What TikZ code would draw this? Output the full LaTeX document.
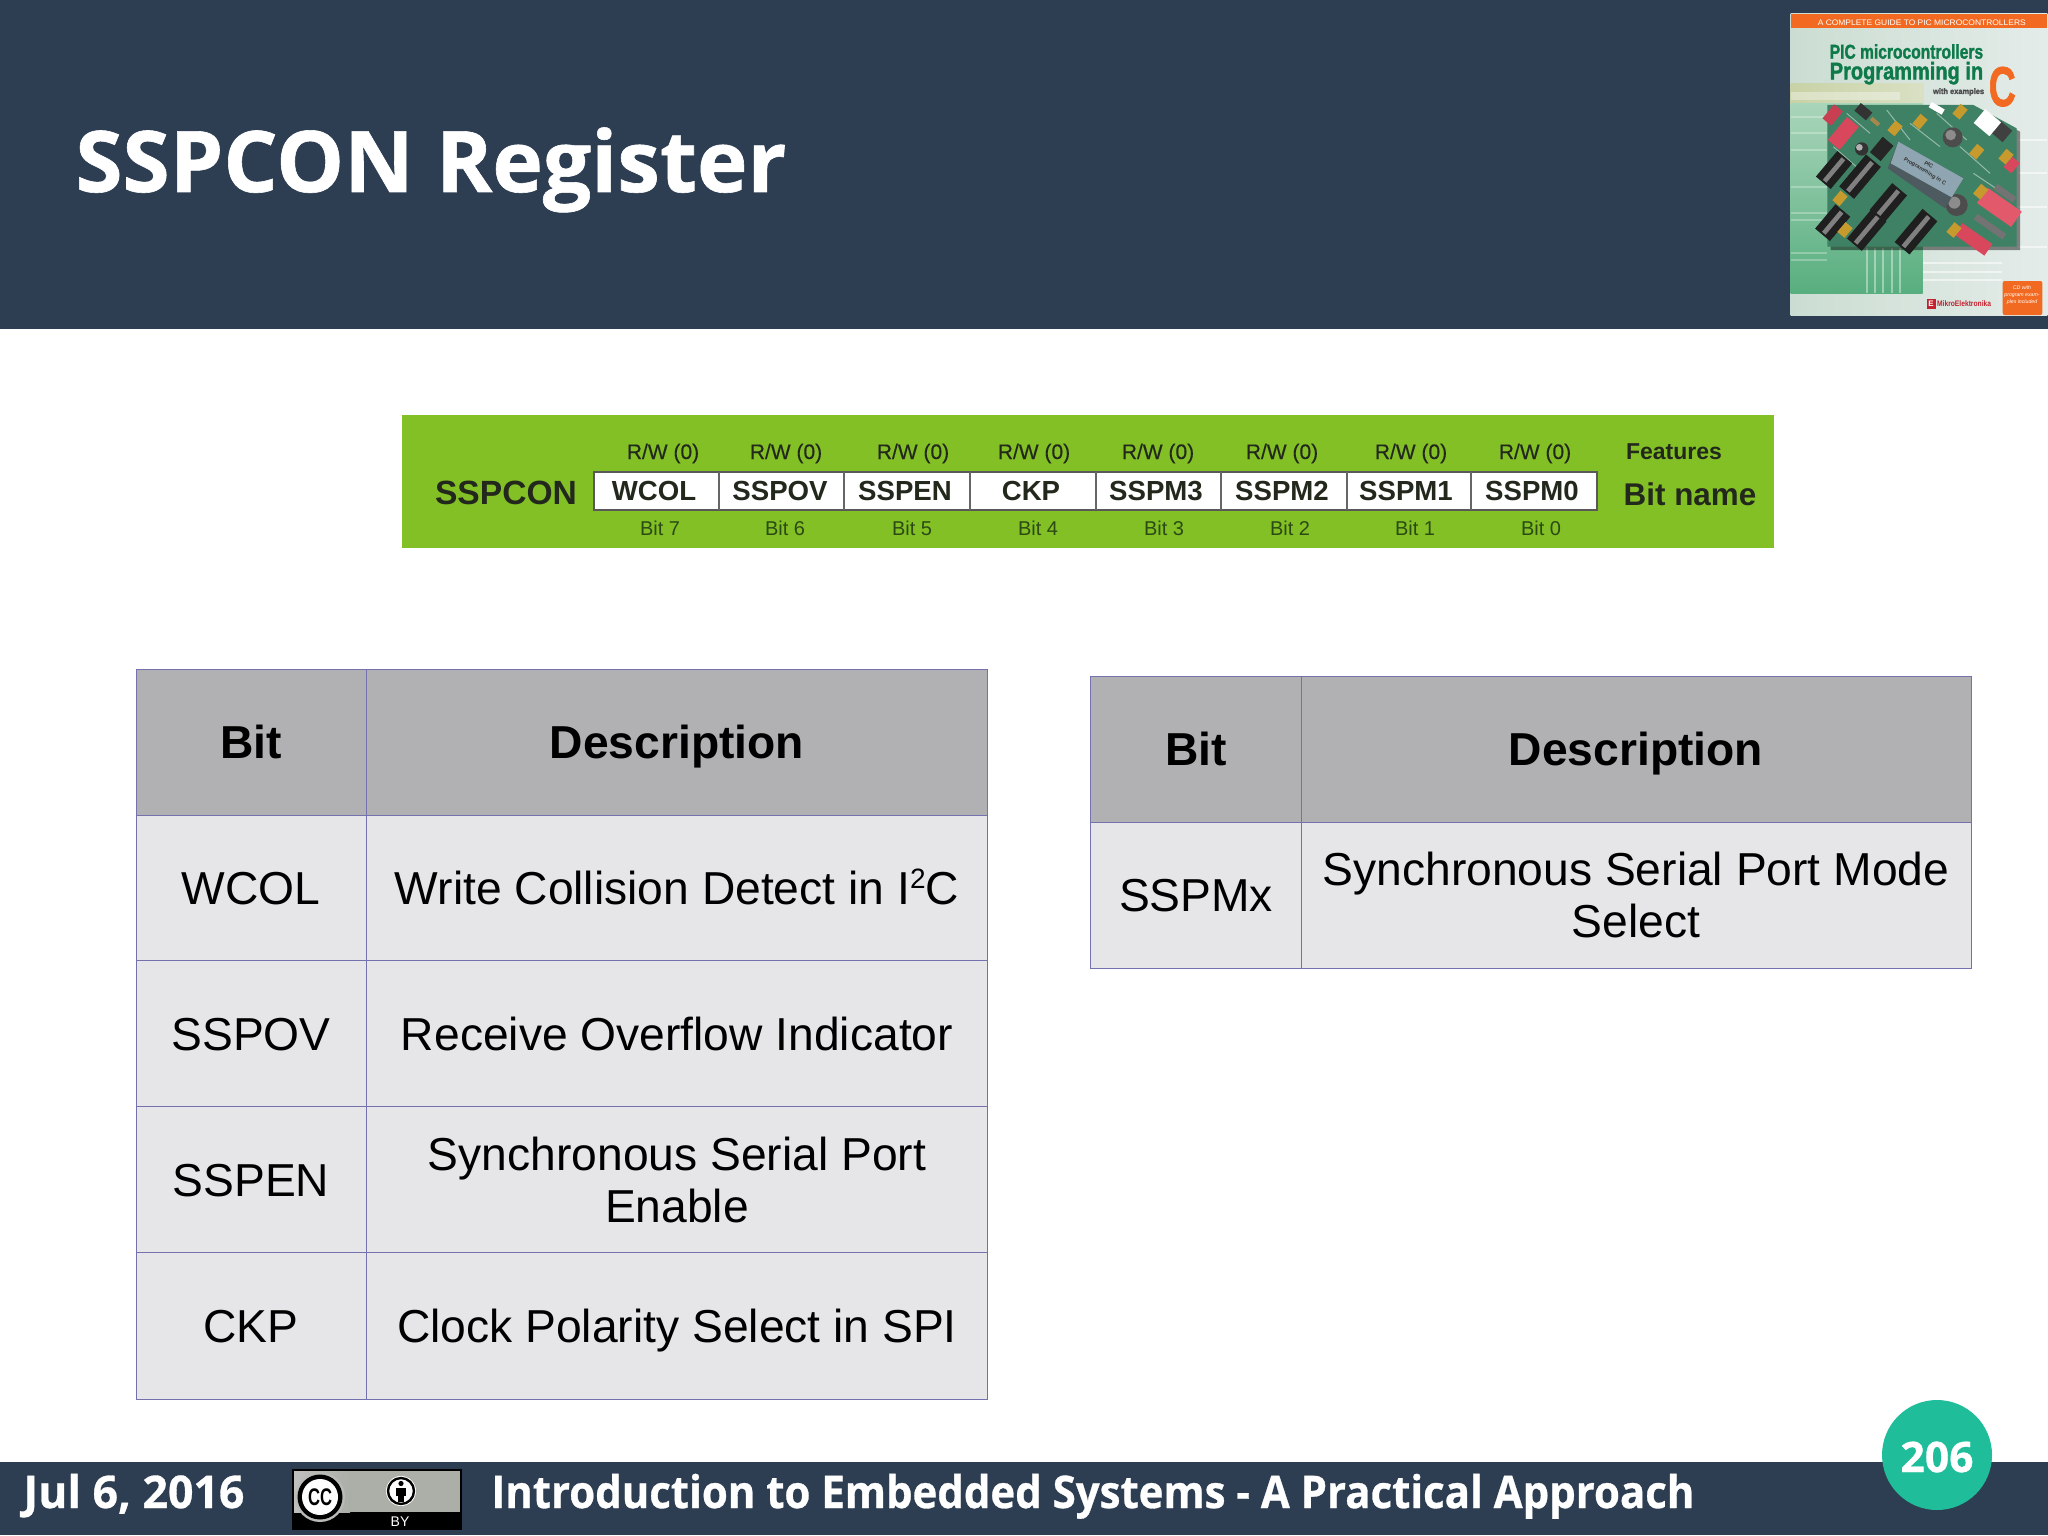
\documentclass[tikz,border=0pt]{standalone}
\usepackage{fontspec}
\usepackage{graphicx}
\setmainfont{Liberation Sans}
\newfontfamily\opensans{Open Sans}[BoldFeatures={FakeBold=0.7}]
\newfontfamily\blurfont{Liberation Sans}[FakeBold=0.35]
\newfontfamily\heavysans{Liberation Sans}[BoldFeatures={FakeBold=1.6}]
\definecolor{navy}{HTML}{2D3D52}
\definecolor{teal}{HTML}{1FBD99}
\definecolor{rule}{HTML}{7472AE}
\definecolor{headcell}{HTML}{B1B0B2}
\definecolor{bodycell}{HTML}{E6E5E8}
\definecolor{lime}{HTML}{82C026}
\definecolor{bookorange}{HTML}{F26A21}
\definecolor{bookgreen}{HTML}{0E7A4A}
\definecolor{inkdark}{HTML}{23281C}
\definecolor{inkgreen}{HTML}{2B4A14}
\definecolor{bkbgl}{HTML}{CBDDD2}
\definecolor{bkbgr}{HTML}{E4ECE9}
\definecolor{bkyl}{HTML}{C8D2A6}
\definecolor{bkyr}{HTML}{D9E0C4}
\definecolor{bkgt}{HTML}{A9D5BA}
\definecolor{bkgb}{HTML}{58AE7F}
\definecolor{board}{HTML}{3F8165}
\definecolor{swa}{HTML}{D9475C}
\definecolor{swb}{HTML}{E2596B}
\definecolor{swc}{HTML}{C93F52}
\definecolor{jump}{HTML}{C79A2E}
\definecolor{wire}{HTML}{A8884A}
\definecolor{lcdd}{HTML}{4D5B60}
\definecolor{lcdl}{HTML}{8FA6B2}
\definecolor{logored}{HTML}{C4202E}
\definecolor{badge}{HTML}{ABAFA8}
\definecolor{badgering}{HTML}{B9BCB6}
\newcommand{\rrect}[6]{\fill[#6,shift={(#1,#2)},rotate=#5] ({-(#3)/2},{-(#4)/2}) rectangle ({(#3)/2},{(#4)/2});}
\tikzset{
  cellbody/.style={fill=bodycell,draw=rule,line width=0.5pt},
  cellhead/.style={fill=headcell,draw=rule,line width=0.5pt},
  tabtext/.style={anchor=base,inner sep=0,font=\fontsize{23.1}{26}\selectfont,text=black},
  tabhead/.style={anchor=base,inner sep=0,font=\fontsize{23.1}{26}\selectfont\bfseries,text=black},
  tabwrap/.style={anchor=center,inner sep=0,align=center,font=\fontsize{23.1}{26}\selectfont,text=black},
  regname/.style={anchor=base,inner sep=0,font=\fontsize{13.8}{14}\selectfont\bfseries,text=inkdark},
  regrw/.style={anchor=base,inner sep=0,font=\blurfont\fontsize{10.5}{11}\selectfont,text=inkdark},
  regbit/.style={anchor=base,inner sep=0,font=\fontsize{10}{11}\selectfont,text=inkgreen},
  foot/.style={anchor=base west,inner sep=0,text=white,font=\opensans\bfseries\fontsize{22.5}{22.5}\selectfont},
  booktext/.style={anchor=base west,inner sep=0}
}
\begin{document}
\begin{tikzpicture}[x=0.5pt,y=-0.5pt]
\useasboundingbox (0,0) rectangle (2048,1535);
\fill[white] (0,0) rectangle (2048,1535);
% header and footer
\fill[navy] (0,0) rectangle (2048,329);
\fill[navy] (0,1462) rectangle (2048,1535);
\node[anchor=base west,inner sep=0,text=white,font=\opensans\bfseries\fontsize{42.5}{42.5}\selectfont] (title) at (75,192) {\resizebox{355.5pt}{\height}{SSPCON Register}};
% book cover, in 3x crop coordinates
\begin{scope}[shift={(1760,0)},x=0.16667pt,y=-0.16667pt]
  \shade[left color=bkbgl,right color=bkbgr] (92,42) rectangle (862,945);
  \shade[left color=bkyl,right color=bkyr] (92,250) rectangle (490,315);
  \fill[white,opacity=.35] (92,275) rectangle (420,300);
  \shade[top color=bkgt,bottom color=bkgb] (92,310) rectangle (488,880);
  \foreach \yy in {350,400,450,560,640,660,760,780} {\draw[white,opacity=.28,line width=1pt] (92,\yy) -- (200,\yy);}
  \foreach \xx in {320,345,370,395,420} {\draw[white,opacity=.4,line width=1pt] (\xx,745) -- (\xx,880);}
  \foreach \yy in {420,520,620,740} {\draw[white,opacity=.55,line width=1pt] (775,\yy) -- (862,\yy);}
  \foreach \yy in {790,815,840} {\draw[white,opacity=.55,line width=1pt] (490,\yy) -- (725,\yy);}
  \fill[bookorange] (92,42) rectangle (862,85);
  \node[booktext,text=white,font=\fontsize{4}{4}\selectfont] (bk1) at (172,76) {\resizebox{104pt}{\height}{A COMPLETE GUIDE TO PIC MICROCONTROLLERS}};
  \node[booktext,text=bookgreen,font=\heavysans\bfseries\fontsize{10}{10}\selectfont] (bk2) at (208,176) {\resizebox{76.7pt}{\height}{PIC microcontrollers}};
  \node[booktext,text=bookgreen,font=\heavysans\bfseries\fontsize{12}{12}\selectfont] (bk3) at (208,238) {\resizebox{76.7pt}{\height}{Programming in}};
  \node[booktext,text=black!70,font=\heavysans\bfseries\fontsize{4}{4}\selectfont] (bk4) at (518,282) {\resizebox{25.5pt}{\height}{with examples}};
  \node[booktext,text=bookorange,font=\heavysans\bfseries\fontsize{28}{28}\selectfont] (bk5) at (685,318) {\resizebox{13.5pt}{\height}{C}};
  % board
  \fill[black,opacity=.45] (212,325) -- (650,325) -- (780,395) -- (780,750) -- (212,750) -- cycle;
  \fill[board] (202,315) -- (640,315) -- (770,385) -- (770,740) -- (202,740) -- cycle;
  % silk lines
  \foreach \xa/\ya/\xb/\yb in {260/340/330/400,380/330/450/420,450/370/540/440,530/340/620/420,600/440/690/520,220/440/300/510,640/520/760/600} {
    \draw[white,opacity=.45,line width=.5pt] (\xa,\ya) -- (\xb,\yb);
  }
  % chips
  \foreach \cx/\cy/\ll in {300/530/125,385/608/105,468/695/130,320/690/115,222/510/100,218/668/95} {
    \rrect{\cx}{\cy}{\ll}{58}{50}{black!88}
    \rrect{\cx}{\cy}{\ll-12}{14}{50}{black!50}
  }
  \rrect{365}{447}{60}{42}{50}{black!85}
  % red switches
  \rrect{250}{400}{90}{46}{50}{swa}
  \rrect{718}{622}{125}{56}{-35}{swb}
  \rrect{640}{718}{110}{42}{-35}{swa}
  \rrect{218}{345}{55}{34}{50}{swc}
  \rrect{755}{495}{40}{30}{50}{swa}
  % grey headers
  \rrect{690}{680}{105}{20}{-35}{black!55}
  \rrect{735}{580}{70}{20}{-35}{black!55}
  % white connector
  \rrect{725}{395}{45}{45}{-40}{black!75}
  \rrect{682}{368}{62}{54}{-40}{white}
  \rrect{530}{325}{45}{18}{-30}{white}
  % knobs
  \fill[black!70] (578,412) circle (30);
  \fill[black!45] (572,405) circle (16);
  \fill[black!70] (590,615) circle (33);
  \fill[black!45] (583,608) circle (18);
  % jumpers
  \foreach \cx/\cy in {600/335,480/365,405/385,650/455,240/595,255/690,582/690,662/575,738/470} {
    \rrect{\cx}{\cy}{38}{28}{50}{jump}
  }
  \rrect{310}{335}{45}{30}{-40}{black!80}
  \rrect{345}{365}{30}{12}{-40}{wire}
  \fill[black!80] (305,447) circle (20);
  \fill[black!30] (298,442) circle (10);
  % LCD
  \fill[lcdd] (415,425) -- (610,535) -- (555,625) -- (383,505) -- cycle;
  \fill[lcdl] (415,425) -- (610,535) -- (575,592) -- (392,490) -- cycle;
  \node[inner sep=0,rotate=-31,text=black!80,align=center,font=\bfseries\fontsize{2.8}{3.6}\selectfont] (bk6) at (500,505) {PIC\\Programming in C};
  % bottom of the cover
  \fill[bookorange,rounded corners=1pt] (728,843) rectangle (847,945);
  \node[inner sep=0,text=white,align=center,font=\itshape\fontsize{2.6}{3.6}\selectfont] (bk7) at (786,885) {CD with\\program exam-\\ples included};
  \fill[logored] (500,898) rectangle (527,927);
  \node[inner sep=0,text=white,font=\bfseries\fontsize{4}{4}\selectfont] (bk8) at (513,912) {E};
  \node[booktext,text=logored,font=\bfseries\fontsize{4}{4}\selectfont] (bk9) at (530,918) {\resizebox{27pt}{\height}{MikroElektronika}};
\end{scope}
% register strip
\fill[lime] (402,415) rectangle (1774,548);
\fill[white,draw=black!65,line width=1.2pt] (594,472) rectangle (1597,510);
\foreach \xx [count=\i] in {719,844,970,1096,1221,1347,1471} {\draw[black!60,line width=1pt] (\xx,472) -- (\xx,510);}
\node[regname,font=\fontsize{16.8}{18}\selectfont\bfseries] (sspcon) at (506,504) {SSPCON};
\foreach \x/\t [count=\i] in {654/WCOL,780/SSPOV,905/SSPEN,1031/CKP,1156/SSPM3,1282/SSPM2,1406/SSPM1,1532/SSPM0} {
  \node[regname] (reg\i) at (\x,500) {\t};
}
\foreach \x [count=\i] in {663,786,913,1034,1158,1282,1411,1535} {
  \node[regrw] (rw\i) at (\x,459) {R/W (0)};
}
\foreach \x/\t [count=\i] in {660/7,785/6,912/5,1038/4,1164/3,1290/2,1415/1,1541/0} {
  \node[regbit] (bit\i) at (\x,535) {Bit \t};
}
\node[regrw,font=\fontsize{11.5}{12}\selectfont\bfseries] (features) at (1674,459) {Features};
\node[regname,font=\fontsize{15.7}{16}\selectfont\bfseries] (bitname) at (1690,505) {Bit name};
% left table
\path[cellhead] (136,669) rectangle (366,815);
\path[cellhead] (366,669) rectangle (987,815);
\foreach \ya/\yb in {815/960,960/1106,1106/1252,1252/1399} {
  \path[cellbody] (136,\ya) rectangle (366,\yb);
  \path[cellbody] (366,\ya) rectangle (987,\yb);
}
\node[tabhead] (lhb) at (251,758) {Bit};
\node[tabhead] (lhd) at (677,758) {Description};
\node[tabtext] (l1a) at (251,904) {WCOL};
\node[tabtext] (l1b) at (677,904) {Write Collision Detect in I\raisebox{0.33em}{\fontsize{14}{14}\selectfont 2}C};
\node[tabtext] (l2a) at (251,1050) {SSPOV};
\node[tabtext] (l2b) at (677,1050) {Receive Overflow Indicator};
\node[tabtext] (l3a) at (251,1196) {SSPEN};
\node[tabwrap] (l3b) at (677,1180) {Synchronous Serial Port\\Enable};
\node[tabtext] (l4a) at (251,1342) {CKP};
\node[tabtext] (l4b) at (677,1342) {Clock Polarity Select in SPI};
% right table
\path[cellhead] (1090,676) rectangle (1301,822);
\path[cellhead] (1301,676) rectangle (1971,822);
\path[cellbody] (1090,822) rectangle (1301,968);
\path[cellbody] (1301,822) rectangle (1971,968);
\node[tabhead] (rhb) at (1196,765) {Bit};
\node[tabhead] (rhd) at (1636,765) {Description};
\node[tabtext] (r1a) at (1196,911) {SSPMx};
\node[tabwrap] (r1b) at (1636,895) {Synchronous Serial Port Mode\\Select};
% footer
\node[foot] (date) at (23,1508) {\resizebox{110.5pt}{\height}{Jul 6, 2016}};
\node[foot] (course) at (491,1508) {\resizebox{601.5pt}{\height}{Introduction to Embedded Systems - A Practical Approach}};
% licence badge
\fill[black] (292,1469) rectangle (462,1530);
\fill[badge] (294,1471) rectangle (460,1512);
\shade[left color=white!75!black,right color=badge] (294,1471) rectangle (350,1512);
\fill[badgering] (320,1497) circle (25);
\fill[black] (320,1497) circle (22.5);
\fill[white] (320,1497) circle (18);
\node[inner sep=0,text=black,font=\bfseries\fontsize{12}{12}\selectfont] (cc) at (320,1497) {\resizebox{12pt}{\height}{CC}};
\fill[white] (401,1491) circle (15);
\draw[black,line width=1.2pt] (401,1491) circle (13);
\fill[black] (401,1483.5) circle (2.6);
\fill[black] (396,1487.5) rectangle (406,1496);
\fill[black] (398,1496) rectangle (404,1502);
\node[inner sep=0,text=white,font=\fontsize{7}{7}\selectfont] (by) at (400,1522) {BY};
% page number
\node[circle,fill=teal,minimum size=55pt,inner sep=0] (pagecircle) at (1937,1455) {};
\node[anchor=base,inner sep=0,text=white,font=\opensans\bfseries\fontsize{21}{21}\selectfont] (pagenum) at (1937,1472) {\resizebox{36.5pt}{\height}{206}};
\end{tikzpicture}
\end{document}
